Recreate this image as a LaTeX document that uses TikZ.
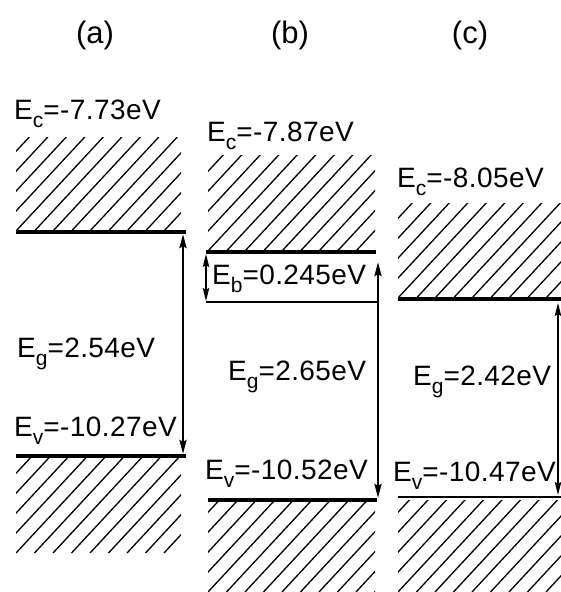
\documentclass[tikz,border=0pt]{standalone}
\usepackage{fontspec}
\setmainfont{Liberation Sans}
\usetikzlibrary{arrows.meta}
\newcommand\lowsub[1]{\raisebox{-0.3em}{\fontsize{21}{21}\selectfont #1}}
\tikzset{
  lbl/.style={anchor=base west, inner sep=0pt, font=\fontsize{28}{32}\selectfont\addfontfeature{LetterSpace=1.5}},
  panel/.style={anchor=base, inner sep=0pt, font=\fontsize{31}{34}\selectfont},
  level/.style={line width=3.2pt},
  thinlevel/.style={line width=2pt},
  hatchline/.style={line width=1.3pt},
  gap/.style={line width=2.6pt, {Stealth[length=14pt,width=7pt,inset=2pt]}-{Stealth[length=14pt,width=7pt,inset=2pt]}},
  thingap/.style={line width=1.6pt, {Stealth[length=13pt,width=6.5pt,inset=2pt]}-{Stealth[length=13pt,width=6.5pt,inset=2pt]}}
}
% hatched band between x1,x2 and y1,y2 (y grows downward)
\newcommand\hatchband[4]{%
  \begin{scope}
    \clip (#1,#3) rectangle (#2,#4);
    \foreach \k in {-8,...,14} {
      \draw[hatchline] ({#1+\k*18.5},#4) -- ++(130,-140);
    }
  \end{scope}}
\begin{document}
\begin{tikzpicture}[x=1pt,y=-1pt]
\useasboundingbox (0,0) rectangle (561,592);

% panel titles
\node[panel] (ta) at (95,43) {(a)};
\node[panel] (tb) at (290,43) {(b)};
\node[panel] (tc) at (470,43) {(c)};

% ---- (a) ----
\hatchband{16}{181}{137}{231}
\hatchband{16}{181}{458}{553}
\coordinate (acL) at (16,232);
\coordinate (acR) at (186,232);
\coordinate (avL) at (16,456);
\coordinate (avR) at (186,456);
\draw[level] (acL) -- (acR);
\draw[level] (avL) -- (avR);
\coordinate (aTop) at (183,234);
\coordinate (aBot) at (183,454);
\draw[gap] (aTop) -- (aBot);
\node[lbl] (aEc) at (14,119) {E\lowsub{c}=-7.73eV};
\node[lbl] (aEg) at (17,357) {E\lowsub{g}=2.54eV};
\node[lbl] (aEv) at (14,436) {E\lowsub{v}=-10.27eV};

% ---- (b) ----
\hatchband{208}{375}{155}{251}
\hatchband{208}{375}{502}{592}
\coordinate (bcL) at (206,252);
\coordinate (bcR) at (376,252);
\coordinate (bxL) at (206,302);
\coordinate (bxR) at (379,302);
\coordinate (bvL) at (208,500);
\coordinate (bvR) at (377,500);
\draw[level] (bcL) -- (bcR);
\draw[thinlevel] (bxL) -- (bxR);
\draw[level] (bvL) -- (bvR);
\coordinate (bbTop) at (206,254);
\coordinate (bbBot) at (206,301);
\draw[thingap] (bbTop) -- (bbBot);
\coordinate (bgTop) at (378,262);
\coordinate (bgBot) at (378,498);
\draw[gap] (bgTop) -- (bgBot);
\node[lbl] (bEc) at (207,141) {E\lowsub{c}=-7.87eV};
\node[lbl] (bEb) at (212,284) {E\lowsub{b}=0.245eV};
\node[lbl] (bEg) at (228,380) {E\lowsub{g}=2.65eV};
\node[lbl] (bEv) at (205,479) {E\lowsub{v}=-10.52eV};

% ---- (c) ----
\hatchband{398}{561}{203}{298}
\hatchband{398}{561}{500}{592}
\coordinate (ccL) at (398,299);
\coordinate (ccR) at (561,299);
\coordinate (cvL) at (398,497);
\coordinate (cvR) at (561,497);
\draw[level] (ccL) -- (ccR);
\draw[thinlevel] (cvL) -- (cvR);
\coordinate (cgTop) at (558,303);
\coordinate (cgBot) at (558,495);
\draw[thingap] (cgTop) -- (cgBot);
\node[lbl] (cEc) at (397,187) {E\lowsub{c}=-8.05eV};
\node[lbl] (cEg) at (413,385) {E\lowsub{g}=2.42eV};
\node[lbl] (cEv) at (393,481) {E\lowsub{v}=-10.47eV};
\end{tikzpicture}
\end{document}
